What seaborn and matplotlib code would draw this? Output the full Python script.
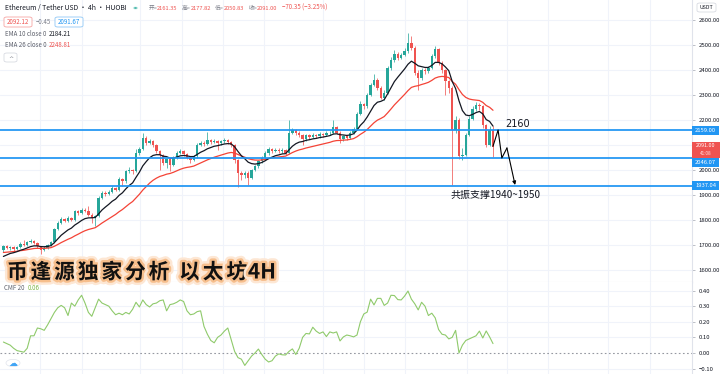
import numpy as np
import pandas as pd
import matplotlib
matplotlib.use("Agg")
import matplotlib.pyplot as plt
import seaborn as sns
from matplotlib.patches import Rectangle, FancyBboxPatch
import matplotlib.patheffects as pe

# ---------------- data ----------------
first_open = 1680
closes = [1696, 1688, 1692, 1683, 1692, 1705, 1700, 1712, 1718, 1710,
          1695, 1682, 1690, 1700, 1712, 1765, 1790, 1805, 1798, 1808,
          1800, 1835, 1828, 1842, 1838, 1822, 1810, 1815, 1890, 1910,
          1905, 1912, 1930, 1922, 1965, 1955, 1995, 2000, 1995, 2070,
          2085, 2130, 2110, 2118, 2100, 2075, 2060, 2030, 2045, 2020,
          2050, 2070, 2078, 2065, 2050, 2040, 2055, 2100, 2110, 2105,
          2120, 2112, 2118, 2108, 2115, 2120, 2112, 2100, 2040, 1990,
          1980, 1990, 1970, 2000, 2015, 2035, 2050, 2068, 2085, 2078,
          2082, 2075, 2082, 2070, 2150, 2160, 2150, 2140, 2125, 2140,
          2132, 2140, 2135, 2145, 2140, 2148, 2150, 2172, 2150, 2125,
          2135, 2130, 2150, 2165, 2225, 2265, 2255, 2300, 2340, 2360,
          2330, 2290, 2310, 2410, 2440, 2465, 2450, 2462, 2478, 2508,
          2490, 2390, 2370, 2400, 2395, 2410, 2455, 2485, 2430, 2400,
          2355, 2330, 2160, 2200, 2055, 2062, 2140, 2205, 2245, 2262,
          2255, 2180, 2100, 2161.35, 2091.00]
highs = [1702, 1700, 1698, 1695, 1698, 1712, 1722, 1716, 1724, 1722,
         1714, 1698, 1695, 1704, 1716, 1770, 1798, 1812, 1810, 1815,
         1812, 1842, 1840, 1850, 1850, 1855, 1828, 1820, 1895, 1918,
         1915, 1920, 1935, 1934, 1972, 1970, 2002, 2012, 2005, 2085,
         2092, 2148, 2135, 2125, 2122, 2105, 2080, 2065, 2050, 2048,
         2055, 2078, 2085, 2082, 2070, 2055, 2060, 2108, 2118, 2115,
         2152, 2125, 2125, 2122, 2122, 2128, 2124, 2116, 2104, 2045,
         1995, 1998, 1995, 2005, 2022, 2042, 2056, 2075, 2092, 2090,
         2090, 2088, 2090, 2086, 2200, 2170, 2165, 2155, 2145, 2146,
         2145, 2148, 2146, 2152, 2150, 2155, 2158, 2200, 2178, 2155,
         2142, 2140, 2156, 2172, 2232, 2275, 2270, 2310, 2350, 2385,
         2370, 2335, 2320, 2418, 2452, 2480, 2472, 2470, 2490, 2548,
         2535, 2495, 2400, 2410, 2408, 2418, 2465, 2495, 2490, 2435,
         2405, 2360, 2335, 2215, 2210, 2090, 2150, 2215, 2255, 2272,
         2268, 2260, 2185, 2175, 2177.82]
lows = [1672, 1684, 1682, 1676, 1680, 1688, 1696, 1697, 1708, 1705,
        1690, 1665, 1676, 1686, 1698, 1708, 1760, 1785, 1792, 1794,
        1795, 1798, 1822, 1825, 1832, 1815, 1790, 1775, 1812, 1885,
        1898, 1900, 1908, 1915, 1918, 1935, 1950, 1988, 1985, 1992,
        2060, 2080, 2100, 2105, 2092, 2068, 2000, 2020, 2010, 1995,
        2015, 2045, 2065, 2058, 2045, 2030, 2035, 2050, 2095, 2098,
        2100, 2105, 2108, 2080, 2102, 2110, 2106, 2092, 2030, 1932,
        1960, 1970, 1940, 1965, 1995, 2010, 2028, 2045, 2062, 2070,
        2072, 2068, 2070, 2062, 2066, 2145, 2140, 2132, 2100, 2118,
        2125, 2128, 2128, 2130, 2134, 2136, 2142, 2145, 2145, 2108,
        2118, 2122, 2126, 2145, 2160, 2220, 2245, 2250, 2295, 2335,
        2320, 2285, 2282, 2305, 2402, 2432, 2440, 2445, 2455, 2470,
        2480, 2380, 2320, 2362, 2385, 2388, 2405, 2450, 2420, 2390,
        2300, 2310, 1940, 2150, 2045, 2040, 2058, 2135, 2200, 2238,
        2240, 2170, 2092, 2095, 2050.83]
cmf = [0.07, 0.06, 0.05, 0.03, 0.015, 0.01, 0.005, 0.03, 0.11, 0.11,
       0.16, 0.155, 0.145, 0.18, 0.22, 0.26, 0.29, 0.305, 0.29, 0.24,
       0.32, 0.30, 0.34, 0.37, 0.32, 0.26, 0.235, 0.29, 0.345, 0.32,
       0.31, 0.30, 0.27, 0.245, 0.255, 0.245, 0.26, 0.25, 0.28, 0.325,
       0.295, 0.34, 0.31, 0.295, 0.315, 0.32, 0.335, 0.34, 0.27, 0.31,
       0.315, 0.325, 0.34, 0.33, 0.27, 0.245, 0.25, 0.265, 0.27, 0.17,
       0.12, 0.08, 0.065, 0.10, 0.115, 0.14, 0.16, 0.085, 0.01, -0.03,
       -0.04, -0.08, -0.05, -0.02, 0.0, 0.025, -0.01, -0.04, -0.058, -0.05,
       -0.02, -0.006, -0.012, -0.013, 0.01, 0.026, -0.01, 0.03, 0.10, 0.125,
       0.122, 0.165, 0.14, 0.125, 0.135, 0.105, 0.135, 0.128, 0.135, 0.077,
       0.103, 0.115, 0.11, 0.103, 0.115, 0.20, 0.25, 0.262, 0.345, 0.308,
       0.35, 0.35, 0.305, 0.32, 0.37, 0.368, 0.342, 0.34, 0.365, 0.397,
       0.345, 0.315, 0.276, 0.325, 0.30, 0.24, 0.255, 0.225, 0.15, 0.12,
       0.115, 0.09, 0.10, 0.145, 0.0, 0.05, 0.08, 0.09, 0.10, 0.11,
       0.14, 0.096, 0.141, 0.103, 0.06]
ema10_seed = 1645
ema26_seed = 1668
price_ticks = [1600, 1700, 1800, 1900, 2000, 2100, 2200, 2300, 2400, 2500, 2600]
hidden_tick = 2100          # covered by the last-price tag in the reference
cmf_ticks = [-0.10, 0.00, 0.10, 0.20, 0.30, 0.40]
levels = [2159.00, 2046.07, 1937.04]
last_close = 2091.00
countdown = "41:08"
# hand-drawn projection path (candle index, price)
proj_idx = [144, 145.5, 146.6, 148.1, 150.5]
proj_price = [2095, 2160, 2048, 2088, 1940]
proj_label = "2160"
support_label = "共振支撑1940~1950"
title_chars = ["币", "逢", "源", "独", "家", "分", "析", " ", "以", "太", "坊", "4H"]
header_name = "Ethereum / Tether USD · 4h · HUOBI"
ohlc_labels = ["开=", "高=", "低=", "收="]
ohlc_values = ["2161.35", "2177.82", "2050.83", "2091.00"]
change_text = "−70.35 (−3.25%)"
bid, spread, ask = "2092.12", "−0.45", "2091.67"
ema10_value, ema26_value, cmf_value = "2184.21", "2248.81", "0.06"

# ---------------- derived frame ----------------
n = len(closes)
opens = [first_open] + closes[:-1]


def ema(vals, span, seed):
    a = 2.0 / (span + 1)
    out, e = [], seed
    for v in vals:
        e = a * v + (1 - a) * e
        out.append(e)
    return out


df = pd.DataFrame({"idx": np.arange(n), "open": opens, "close": closes,
                   "high": highs, "low": lows, "cmf": cmf})
df["ema10"] = ema(closes, 10, ema10_seed)
df["ema26"] = ema(closes, 26, ema26_seed)

# ---------------- style ----------------
sns.set_theme(style="white")
plt.rcParams["font.family"] = ["Noto Sans CJK SC", "DejaVu Sans"]
plt.rcParams["axes.unicode_minus"] = True

W, H = 720, 374
UP, DOWN = "#26a69a", "#ef5350"
BLUE = "#2196f3"
GRID = "#f0f3fa"
TXT = "#131722"
GRAY = "#787b86"

fig = plt.figure(figsize=(W / 100, H / 100), dpi=100)
fig.patch.set_facecolor("white")
PANE_R = 692
SPLIT = 282
ax_p = fig.add_axes([0, 1 - SPLIT / H, PANE_R / W, SPLIT / H])
ax_c = fig.add_axes([0, 0, PANE_R / W, (H - SPLIT) / H])

xmax = PANE_R / 3.4 - 1
for ax in (ax_p, ax_c):
    ax.set_xlim(-1, xmax)
    ax.set_facecolor("white")
    for s in ("top", "left", "bottom"):
        ax.spines[s].set_visible(False)
    ax.spines["right"].set_color("#e0e3eb")
    ax.spines["right"].set_linewidth(0.8)
    ax.yaxis.tick_right()
    ax.set_xticks([])
ax_p.spines["bottom"].set_visible(True)
ax_p.spines["bottom"].set_color("#e0e3eb")
ax_p.spines["bottom"].set_linewidth(0.8)

ax_p.set_ylim(1552, 2680)
ax_c.set_ylim(-0.135, 0.455)

# grid
vgrid_px = [40, 82, 140, 182, 223, 264, 323, 364, 405, 467, 507, 548, 608, 650]
for ax in (ax_p, ax_c):
    for xp in vgrid_px:
        ax.axvline(xp / 3.4 - 1, color=GRID, lw=0.8, zorder=0)
for t in price_ticks:
    ax_p.axhline(t, color=GRID, lw=0.8, zorder=0)
for t in cmf_ticks:
    if t != 0:
        ax_c.axhline(t, color=GRID, lw=0.8, zorder=0)

# candles
up = df["close"] >= df["open"]
colors = np.where(up, UP, DOWN)
ax_p.vlines(df["idx"], df["low"], df["high"], colors=colors, lw=0.7, alpha=0.75, zorder=2)
body_lo = np.minimum(df["open"], df["close"])
body_h = np.maximum(np.abs(df["close"] - df["open"]), 2.0)
ax_p.bar(df["idx"], body_h, bottom=body_lo, width=0.72, color=colors, linewidth=0, zorder=3)

# EMAs
sns.lineplot(data=df, x="idx", y="ema26", ax=ax_p, color="#f44336", lw=0.9, zorder=4)
sns.lineplot(data=df, x="idx", y="ema10", ax=ax_p, color="#131722", lw=0.9, zorder=5)

# support / resistance levels
for lv in levels:
    ax_p.axhline(lv, color=BLUE, lw=1.4, alpha=0.9, zorder=6)

# projection path
ax_p.plot(proj_idx[:-1], proj_price[:-1], color="black", lw=0.8, zorder=7)
ax_p.annotate("", xy=(proj_idx[-1], proj_price[-1]), xytext=(proj_idx[-2], proj_price[-2]),
              arrowprops=dict(arrowstyle="-|>", color="black", lw=0.8,
                              mutation_scale=5, shrinkA=0, shrinkB=0), zorder=7)
ax_p.text(147.6, 2184, proj_label, fontsize=7, color=TXT, va="center", ha="left",
          family=["DejaVu Sans"])
ax_p.text(131.4, 1900, support_label, fontsize=7.2, color=TXT, va="center", ha="left")

# CMF
sns.lineplot(data=df, x="idx", y="cmf", ax=ax_c, color="#8fca6b", lw=0.8)
ax_c.axhline(0, color="#9598a1", lw=0.8, ls=(0, (1.5, 2.2)), zorder=1)

for ax in (ax_p, ax_c):
    ax.set_xlabel("")
    ax.set_ylabel("")
    ax.set_xlim(-1, xmax)
    ax.set_xticks([])

ax_c.set_yticks(cmf_ticks)
ax_c.set_yticklabels([f"{t:.2f}".replace("-", "−") for t in cmf_ticks])
ax_p.set_yticks(price_ticks)
ax_p.set_yticklabels(["" if t == hidden_tick else f"{t:.2f}" for t in price_ticks])
for ax in (ax_p, ax_c):
    ax.tick_params(axis="y", right=True, left=False, length=2.5, width=0.6, color="#b2b5be",
                   labelsize=4.3, labelcolor=TXT, pad=2.5)


# ---------------- helpers in pixel space ----------------
def ftext(x, y, s, **kw):
    kw.setdefault("va", "center")
    kw.setdefault("ha", "left")
    return fig.text(x / W, 1 - y / H, s, **kw)


def frect(x0, y0, x1, y1, fc, ec="none", lw=0.6, z=10, rounded=False):
    if rounded:
        p = FancyBboxPatch((x0 / W, 1 - y1 / H), (x1 - x0) / W, (y1 - y0) / H,
                           boxstyle="round,pad=0,rounding_size=0.004",
                           transform=fig.transFigure, fc=fc, ec=ec, lw=lw, zorder=z)
    else:
        p = Rectangle((x0 / W, 1 - y1 / H), (x1 - x0) / W, (y1 - y0) / H,
                      transform=fig.transFigure, fc=fc, ec=ec, lw=lw, zorder=z)
    fig.add_artist(p)


def price_px(p):
    return H - ax_p.transData.transform((0, p))[1]


# price-scale labels
y2159 = price_px(levels[0])
frect(692, y2159 - 4.5, 719, y2159 + 4.5, BLUE, z=20)
ftext(705.5, y2159, f"{levels[0]:.2f}", fontsize=4.2, color="white", ha="center", zorder=21)

ylast = price_px(last_close)
frect(692, ylast - 5, 720, ylast + 10.5, "#ef5350", z=20)
ftext(705.5, ylast - 1.5, f"{last_close:.2f}", fontsize=3.9, color="white", ha="center", zorder=21)
ftext(705.5, ylast + 6.3, countdown, fontsize=3.4, color="#fde0e0", ha="center", zorder=21)

y2046 = price_px(levels[1]) + 4
frect(692, y2046 - 4.5, 719, y2046 + 4.5, BLUE, z=22)
ftext(705.5, y2046, f"{levels[1]:.2f}", fontsize=4.2, color="white", ha="center", zorder=23)

y1937 = price_px(levels[2])
frect(692, y1937 - 4.5, 719, y1937 + 4.5, BLUE, z=20)
ftext(705.5, y1937, f"{levels[2]:.2f}", fontsize=4.2, color="white", ha="center", zorder=21)

# USDT box
frect(697, 3, 716, 12, "white", ec="#d1d4dc", lw=0.5, z=20, rounded=True)
ftext(706.5, 7.6, "USDT", fontsize=3.8, color=TXT, ha="center", zorder=21)

# header
ftext(5, 8, header_name, fontsize=4.9, color=TXT)
fig.add_artist(plt.Circle((135.5 / W, 1 - 8 / H), 2.6 / W, transform=fig.transFigure,
                          fc="#c8ece6", ec="none", zorder=20))
fig.add_artist(plt.Circle((135.5 / W, 1 - 8 / H), 1.4 / W, transform=fig.transFigure,
                          fc=UP, ec="none", zorder=21))
xs_lab = [148.3, 181.7, 215.0, 248.3]
for xl, lab, val in zip(xs_lab, ohlc_labels, ohlc_values):
    lt = ftext(xl, 8, lab, fontsize=4.1, color=GRAY)
    ax_p.annotate(val, xy=(1, 0.5), xycoords=lt, va="center", ha="left",
                  fontsize=4.1, color="#ef5350", annotation_clip=False)
ftext(282, 8, change_text, fontsize=4.4, color="#ef5350")

frect(4, 17, 32, 27, "white", ec="#f7a5a3", lw=0.6, z=20, rounded=True)
ftext(18, 22, bid, fontsize=4.4, color="#ef5350", ha="center", zorder=21)
ftext(36, 22, spread, fontsize=4.4, color=GRAY)
frect(55, 17, 83, 27, "white", ec="#90c8f6", lw=0.6, z=20, rounded=True)
ftext(69, 22, ask, fontsize=4.4, color=BLUE, ha="center", zorder=21)

ftext(5, 34.5, "EMA 10 close 0", fontsize=4.4, color="#5d606b")
ftext(48.5, 34.5, ema10_value, fontsize=4.4, color=TXT)
ftext(5, 45, "EMA 26 close 0", fontsize=4.4, color="#5d606b")
ftext(48.5, 45, ema26_value, fontsize=4.4, color="#ef5350")

# collapse button
frect(4, 53, 17, 62, "white", ec="#d1d4dc", lw=0.5, z=20, rounded=True)
ftext(10.5, 58.5, "^", fontsize=4.5, color=GRAY, ha="center", zorder=21, family=["DejaVu Sans"])

# CMF legend
ftext(4, 288.5, "CMF 20", fontsize=4.4, color="#5d606b")
ftext(28, 288.5, cmf_value, fontsize=4.4, color="#7cb342")

# cloud icon
fig.add_artist(plt.Circle((13 / W, 1 - 363 / H), 7 / W, transform=fig.transFigure,
                          fc="white", ec="#e0e3eb", lw=0.5, zorder=20))
ftext(13, 363, "☁", fontsize=6.5, color="#42a5f5", ha="center", zorder=21, family=["DejaVu Sans"])

# big title with glow (spaced characters)
x = 7.0
for ch in title_chars:
    if ch == " ":
        x += 7.0
        continue
    ftext(x, 272, ch, fontsize=15, color="#111111", zorder=30, fontweight="bold",
          path_effects=[pe.Stroke(linewidth=7, foreground="#fde7d4"),
                        pe.Stroke(linewidth=3.5, foreground="#f6be8c"),
                        pe.Normal()])
    x += 23.6 if ch != "坊" else 21.5

fig.savefig("out.png", dpi=100)
